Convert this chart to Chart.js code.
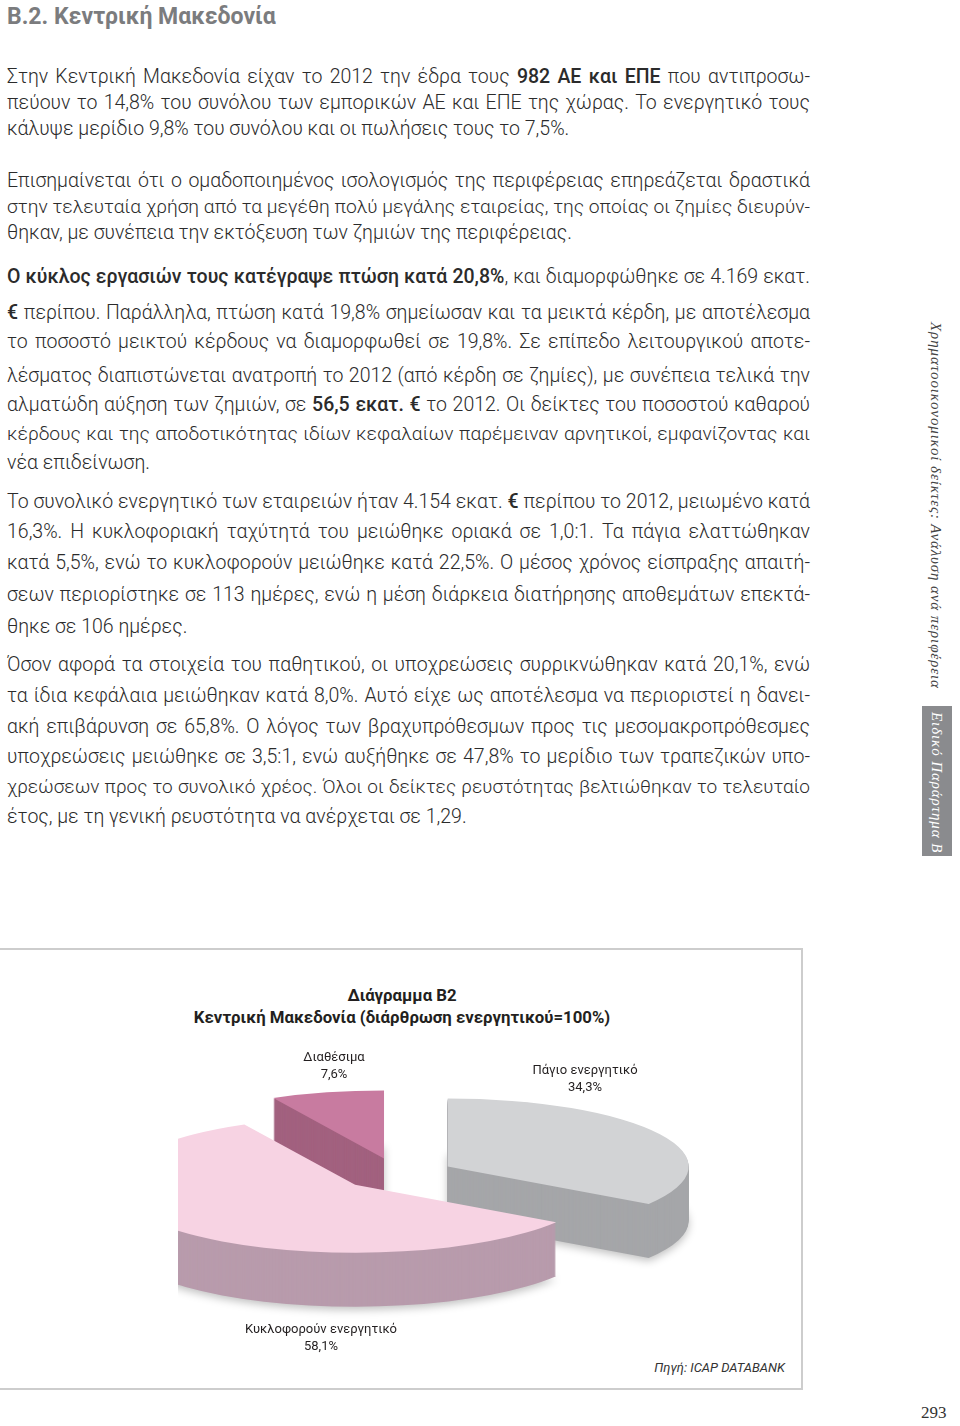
<!DOCTYPE html>
<html lang="el">
<head>
<meta charset="utf-8">
<title>Κεντρική Μακεδονία</title>
<script src="https://cdn.jsdelivr.net/npm/chart.js@4/dist/chart.umd.min.js"></script>
<style>
html, body { margin: 0; padding: 0; background: #fff; }
body { width: 960px; height: 1426px; position: relative; overflow: hidden;
  font-family: Roboto, "Noto Sans", sans-serif; color: #2b2b2b; }
.h { position: absolute; left: 7px; top: 3px; font: bold 23px Roboto, sans-serif; color: #7b7c7e; }
.l { position: absolute; left: 7px; width: 803px; font-weight: 300; font-size: 19.5px; line-height: 22px; white-space: nowrap; }
.l b { font-weight: 500; }
.j { text-align: justify; text-align-last: justify; white-space: normal; }
.side { position: absolute; left: 927px; top: 322px; writing-mode: vertical-rl;
  font: italic 15px "Liberation Serif", "DejaVu Serif", serif; letter-spacing: 0.9px; color: #444; }
.tab { position: absolute; left: 922px; top: 706px; width: 30px; height: 150px; background: #8a8b8e;
  color: #fff; writing-mode: vertical-rl; font: italic 15px "Liberation Serif", serif; letter-spacing: 0.9px;
  box-sizing: border-box; padding-top: 6px; line-height: 30px; }
.pg { position: absolute; left: 921px; top: 1403px; font: 17px "Liberation Serif", serif; color: #333; }
.box { position: absolute; left: -4px; top: 948px; width: 803px; height: 438px; border: 2px solid #cdcdcd; }
.title { position: absolute; left: 0; top: 984px; width: 804px; text-align: center;
  font: bold 16.8px Roboto, sans-serif; line-height: 22px; color: #231f20; }
.lab { position: absolute; width: 200px; text-align: center; font: 13px "Liberation Sans Narrow", Roboto, sans-serif;
  line-height: 17px; color: #231f20; }
.src { position: absolute; left: 600px; width: 185px; top: 1360px; text-align: right;
  font: italic 13px "Liberation Sans Narrow", Roboto, sans-serif; color: #333; }
#pie { position: absolute; left: 178px; top: 1040px; }
</style>
</head>
<body>
<div class="h">Β.2. Κεντρική Μακεδονία</div>

<div class="l j" style="top:66px">Στην Κεντρική Μακεδονία είχαν το 2012 την έδρα τους <b>982 ΑΕ και ΕΠΕ</b> που αντιπροσω-</div>
<div class="l j" style="top:92px">πεύουν το 14,8% του συνόλου των εμπορικών ΑΕ και ΕΠΕ της χώρας. Το ενεργητικό τους</div>
<div class="l" style="top:118px">κάλυψε μερίδιο 9,8% του συνόλου και οι πωλήσεις τους το 7,5%.</div>

<div class="l j" style="top:170px">Επισημαίνεται ότι ο ομαδοποιημένος ισολογισμός της περιφέρειας επηρεάζεται δραστικά</div>
<div class="l j" style="top:196px">στην τελευταία χρήση από τα μεγέθη πολύ μεγάλης εταιρείας, της οποίας οι ζημίες διευρύν-</div>
<div class="l" style="top:222px">θηκαν, με συνέπεια την εκτόξευση των ζημιών της περιφέρειας.</div>

<div class="l j" style="top:266px"><b>Ο κύκλος εργασιών τους κατέγραψε πτώση κατά 20,8%</b>, και διαμορφώθηκε σε 4.169 εκατ.</div>
<div class="l j" style="top:302px"><b>€</b> περίπου. Παράλληλα, πτώση κατά 19,8% σημείωσαν και τα μεικτά κέρδη, με αποτέλεσμα</div>
<div class="l j" style="top:331px">το ποσοστό μεικτού κέρδους να διαμορφωθεί σε 19,8%. Σε επίπεδο λειτουργικού αποτε-</div>
<div class="l j" style="top:365px">λέσματος διαπιστώνεται ανατροπή το 2012 (από κέρδη σε ζημίες), με συνέπεια τελικά την</div>
<div class="l j" style="top:394px">αλματώδη αύξηση των ζημιών, σε <b>56,5 εκατ. €</b> το 2012. Οι δείκτες του ποσοστού καθαρού</div>
<div class="l j" style="top:423px">κέρδους και της αποδοτικότητας ιδίων κεφαλαίων παρέμειναν αρνητικοί, εμφανίζοντας και</div>
<div class="l" style="top:452px">νέα επιδείνωση.</div>

<div class="l j" style="top:491px">Το συνολικό ενεργητικό των εταιρειών ήταν 4.154 εκατ. <b>€</b> περίπου το 2012, μειωμένο κατά</div>
<div class="l j" style="top:521px">16,3%. Η κυκλοφοριακή ταχύτητά του μειώθηκε οριακά σε 1,0:1. Τα πάγια ελαττώθηκαν</div>
<div class="l j" style="top:552px">κατά 5,5%, ενώ το κυκλοφορούν μειώθηκε κατά 22,5%. Ο μέσος χρόνος είσπραξης απαιτή-</div>
<div class="l j" style="top:584px">σεων περιορίστηκε σε 113 ημέρες, ενώ η μέση διάρκεια διατήρησης αποθεμάτων επεκτά-</div>
<div class="l" style="top:616px">θηκε σε 106 ημέρες.</div>

<div class="l j" style="top:654px">Όσον αφορά τα στοιχεία του παθητικού, οι υποχρεώσεις συρρικνώθηκαν κατά 20,1%, ενώ</div>
<div class="l j" style="top:685px">τα ίδια κεφάλαια μειώθηκαν κατά 8,0%. Αυτό είχε ως αποτέλεσμα να περιοριστεί η δανει-</div>
<div class="l j" style="top:716px">ακή επιβάρυνση σε 65,8%. Ο λόγος των βραχυπρόθεσμων προς τις μεσομακροπρόθεσμες</div>
<div class="l j" style="top:746px">υποχρεώσεις μειώθηκε σε 3,5:1, ενώ αυξήθηκε σε 47,8% το μερίδιο των τραπεζικών υπο-</div>
<div class="l j" style="top:776px">χρεώσεων προς το συνολικό χρέος. Όλοι οι δείκτες ρευστότητας βελτιώθηκαν το τελευταίο</div>
<div class="l" style="top:806px">έτος, με τη γενική ρευστότητα να ανέρχεται σε 1,29.</div>

<div class="side">Χρηματοοικονομικοί δείκτες: Ανάλυση ανά περιφέρεια</div>
<div class="tab">Ειδικό Παράρτημα Β</div>

<div class="box"></div>
<div class="title">Διάγραμμα Β2<br>Κεντρική Μακεδονία (διάρθρωση ενεργητικού=100%)</div>
<canvas id="pie" width="622" height="300"></canvas>
<div class="lab" id="lab0" style="left:485px; top:1061px"></div>
<div class="lab" id="lab1" style="left:221px; top:1320px"></div>
<div class="lab" id="lab2" style="left:234px; top:1048px"></div>
<div class="src">Πηγή: ICAP DATABANK</div>

<div class="pg">293</div>

<script>
// pie data (order: clockwise from 12 o'clock)
const categories = ['Πάγιο ενεργητικό', 'Κυκλοφορούν ενεργητικό', 'Διαθέσιμα'];
const shares = [34.3, 58.1, 7.6];

const topColors = ['#d2d3d5', '#f7d3e3', '#c87ba0'];
const wallColors = ['#a5a6a9', '#b89bac', '#a2617f'];

const tilt = 0.282;   // y squash of the pie
const depth = 54;     // wall height in px
const explode = 57;   // slice pull-out

// shrink any justified line that would wrap
document.querySelectorAll('.l.j').forEach(el => {
  let fs = 19.5;
  while (el.scrollHeight > 24 && fs > 14) {
    fs -= 0.25;
    el.style.fontSize = fs + 'px';
  }
});

categories.forEach((c, i) => {
  document.getElementById('lab' + i).innerHTML =
    c + '<br>' + shares[i].toFixed(1).replace('.', ',') + '%';
});

const pie3d = {
  id: 'pie3d',
  afterDatasetUpdate(chart) {
    chart.getDatasetMeta(0).data.forEach(a => {
      const mid = (a.startAngle + a.endAngle) / 2;
      a.x += Math.cos(mid) * explode;
      a.y += Math.sin(mid) * explode;
    });
  },
  beforeDatasetsDraw(chart) {
    const ctx = chart.ctx;
    const cy = (chart.chartArea.top + chart.chartArea.bottom) / 2;
    ctx.save();
    ctx.translate(0, cy);
    ctx.scale(1, tilt);
    ctx.translate(0, -cy);
    const arcs = chart.getDatasetMeta(0).data;
    // back slices first, front slice last
    [0, 2, 1].forEach(i => {
      const a = arcs[i];
      for (let d = depth; d >= 1; d--) {
        const y = a.y + d / tilt;
        ctx.save();
        if (d === depth) {
          ctx.shadowColor = 'rgba(0,0,0,0.25)';
          ctx.shadowBlur = 8;
          ctx.shadowOffsetY = 3;
        }
        ctx.beginPath();
        ctx.moveTo(a.x, y);
        ctx.arc(a.x, y, a.outerRadius, a.startAngle, a.endAngle);
        ctx.closePath();
        ctx.fillStyle = wallColors[i];
        ctx.fill();
        ctx.restore();
      }
    });
  },
  afterDatasetsDraw(chart) {
    chart.ctx.restore();
  }
};

new Chart(document.getElementById('pie'), {
  type: 'pie',
  data: {
    labels: categories,
    datasets: [{
      data: shares,
      backgroundColor: topColors,
      borderWidth: 0,
      clip: false
    }]
  },
  options: {
    responsive: false,
    animation: false,
    events: [],
    radius: 241,
    layout: { padding: { right: 183, bottom: 32 } },
    plugins: { legend: { display: false }, tooltip: { enabled: false } }
  },
  plugins: [pie3d]
});
</script>
</body>
</html>
